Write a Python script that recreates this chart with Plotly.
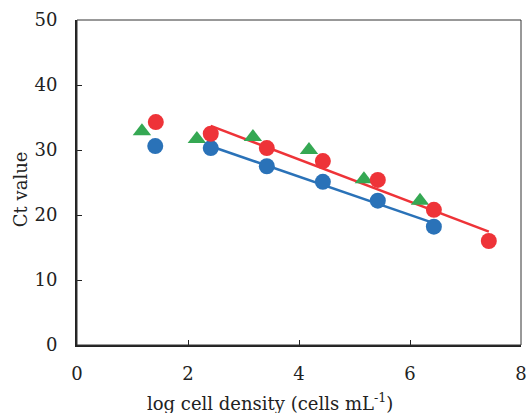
import numpy as np
import plotly.graph_objects as go

# Data
blue_x = [1.41, 2.41, 3.42, 4.43, 5.42, 6.43]
blue_y = [30.6, 30.3, 27.5, 25.1, 22.2, 18.2]
red_x = [1.42, 2.41, 3.42, 4.43, 5.42, 6.43, 7.42]
red_y = [34.3, 32.5, 30.3, 28.3, 25.4, 20.8, 16.0]
green_x = [1.17, 2.16, 3.17, 4.18, 5.17, 6.18]
green_y = [32.9, 31.7, 32.0, 30.0, 25.5, 22.2]

x_ticks = [0, 2, 4, 6, 8]
y_ticks = [0, 10, 20, 30, 40, 50]

BLUE = "#2a72b8"
RED = "#ee3338"
GREEN = "#35a853"

# Regression lines (fit over points from x≈2.4 upward)
bfx = np.array(blue_x[1:]); bfy = np.array(blue_y[1:])
rfx = np.array(red_x[1:]); rfy = np.array(red_y[1:])
bm, bc = np.polyfit(bfx, bfy, 1)
rm, rc = np.polyfit(rfx, rfy, 1)
bline_x = [bfx.min(), bfx.max()]
rline_x = [rfx.min(), rfx.max()]

fig = go.Figure()
fig.add_trace(go.Scatter(x=bline_x, y=[bm * v + bc for v in bline_x], mode="lines",
                         line=dict(color=BLUE, width=2.5), showlegend=False, hoverinfo="skip"))
fig.add_trace(go.Scatter(x=rline_x, y=[rm * v + rc for v in rline_x], mode="lines",
                         line=dict(color=RED, width=2.5), showlegend=False, hoverinfo="skip"))
fig.add_trace(go.Scatter(x=green_x, y=green_y, mode="markers",
                         marker=dict(symbol="triangle-up", size=16, color=GREEN), showlegend=False))
fig.add_trace(go.Scatter(x=blue_x, y=blue_y, mode="markers",
                         marker=dict(symbol="circle", size=16, color=BLUE), showlegend=False))
fig.add_trace(go.Scatter(x=red_x, y=red_y, mode="markers",
                         marker=dict(symbol="circle", size=16, color=RED), showlegend=False))

tickfont = dict(family="DejaVu Serif", size=18, color="#222222")
titlefont = dict(family="DejaVu Serif", size=18, color="#222222")

fig.update_layout(
    width=526, height=413,
    margin=dict(l=77, r=5, t=20, b=68),
    paper_bgcolor="white", plot_bgcolor="white",
    font=titlefont,
    xaxis=dict(range=[0, 8], tickvals=x_ticks, ticks="inside", ticklen=5, tickcolor="#222",
               showgrid=False, zeroline=False, showline=True, linecolor="#222", linewidth=2,
               automargin=False, ticklabelstandoff=11, ticklabeloverflow="allow", tickfont=tickfont),
    yaxis=dict(range=[0, 50], tickvals=y_ticks, ticks="inside", ticklen=5, tickcolor="#222",
               showgrid=False, zeroline=False, showline=True, linecolor="#222", linewidth=2,
               automargin=False, ticklabelstandoff=14, ticklabeloverflow="allow", tickfont=tickfont),
    shapes=[dict(type="rect", xref="paper", yref="paper", x0=0, x1=1, y0=0, y1=1,
                 line=dict(color="#333333", width=1), layer="above")],
    annotations=[
        dict(text="log cell density (cells mL<sup>-1</sup>)", xref="paper", yref="paper",
             x=0.435, y=-0.175, xanchor="center", yanchor="middle", showarrow=False, font=titlefont),
        dict(text="Ct value", xref="paper", yref="paper", x=-0.128, y=0.48,
             xanchor="center", yanchor="middle", textangle=-90, showarrow=False, font=titlefont),
    ],
)

fig.write_html("out.html", post_script="document.body.style.margin='0';",
               config={"displayModeBar": False})
